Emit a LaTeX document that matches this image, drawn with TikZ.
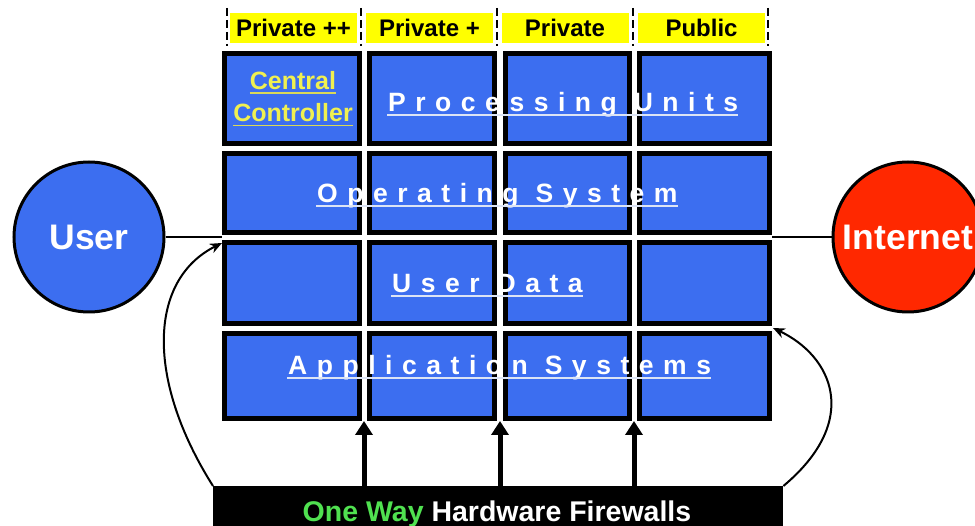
\documentclass[tikz,border=0pt]{standalone}
\usepackage{fontspec}
\setmainfont{Liberation Sans}
\usetikzlibrary{arrows.meta}
\definecolor{cellblue}{RGB}{60,110,240}
\definecolor{netred}{RGB}{255,40,0}
\definecolor{hdryellow}{RGB}{255,255,0}
\definecolor{ccyellow}{RGB}{240,240,80}
\definecolor{owgreen}{RGB}{80,225,80}
\definecolor{ulgray}{RGB}{220,228,245}
\newcommand\fsz[1]{\fontsize{#1}{#1}\selectfont}
\begin{document}
\begin{tikzpicture}[x=1pt,y=-1pt,
  cell/.style={draw=black, fill=cellblue, line width=5pt},
  hdrbox/.style={fill=hdryellow, minimum width=127pt, minimum height=30pt, inner sep=0pt, font=\fsz{24}\bfseries},
  hdrdash/.style={draw=black, line width=2.5pt, dash pattern=on 8pt off 4pt},
  rowtxt/.style={font=\fsz{26.5}\bfseries\addfontfeature{LetterSpace=36}, text=white, anchor=base west, inner sep=0pt},
  rowul/.style={draw=ulgray, line width=1.5pt},
  cctxt/.style={font=\fsz{25}\bfseries, text=ccyellow, anchor=base, inner sep=0pt},
  ccul/.style={draw=ccyellow!80!gray, line width=1.5pt},
  endpoint/.style={circle, draw=black, line width=3pt, minimum size=150pt, inner sep=0pt, font=\fsz{35.5}\bfseries, text=white},
  link/.style={draw=black, line width=2pt},
  carrow/.style={draw=black, line width=2pt, -{Stealth[length=12pt,width=10pt]}},
  varrow/.style={draw=black, line width=5pt, -{Triangle[length=14pt,width=17pt]}}
]
\useasboundingbox (0,0) rectangle (975,526);
\clip (0,0) rectangle (975,526);

% header
\node[hdrbox] (h1) at (293.5,28) {Private ++};
\node[hdrbox] (h2) at (429.5,28) {Private +};
\node[hdrbox] (h3) at (565,28) {Private};
\node[hdrbox] (h4) at (701.5,28) {Public};
\foreach \x in {227,361,497,633,768} \draw[hdrdash] (\x,8) -- (\x,46);

% grid cells
\foreach \xa/\xb in {224.5/359, 369/494.5, 505.5/629, 639/769}
  \foreach \ya/\yb in {53.5/144, 153.3/232.5, 242.5/324, 334/418.7}
    \draw[cell] (\xa,\ya) rectangle (\xb,\yb);
\node[inner sep=0pt, minimum width=549.5pt, minimum height=370pt] (grid) at (496.75,236) {};

% row texts
\node[rowtxt] (pu) at (388,112) {Processing Units};
\node[rowtxt] (os) at (317,203) {Operating System};
\node[rowtxt] (ud) at (392,293) {User Data};
\node[rowtxt] (as) at (288,375) {Application Systems};
\foreach \n in {pu,os,ud,as}
  \draw[rowul] ([shift={(-1pt,-3pt)}]\n.base west) -- ([shift={(0pt,-3pt)}]\n.base east);

\node[cctxt] (cc1) at (293,89.5) {Central};
\node[cctxt] (cc2) at (293,122) {Controller};
\foreach \n in {cc1,cc2}
  \draw[ccul] ([yshift=-3.5pt]\n.base west) -- ([yshift=-3.5pt]\n.base east);

% endpoints
\node[endpoint, fill=cellblue] (user) at (89,237) {User};
\node[endpoint, fill=netred] (inet) at (908,237) {Internet};
\draw[link] (user.east) -- (user.east -| grid.west);
\draw[link] (inet.west) -- (inet.west -| grid.east);

% firewall bar
\node[fill=black, anchor=north west, minimum width=570pt, minimum height=50pt, inner sep=0pt] (fw) at (213,486) {};
\node[font=\fsz{28.5}\bfseries, text=white, anchor=base, inner sep=0pt] (fwtxt) at (497,521) {\textcolor{owgreen}{One Way} Hardware Firewalls};

\coordinate (s1) at (364,421);
\coordinate (s2) at (500,421);
\coordinate (s3) at (634,421);
\foreach \s in {s1,s2,s3} \draw[varrow] (fw.north -| \s) -- (\s);

\coordinate (tipL) at (222,243);
\coordinate (tipR) at (773,328);
\draw[carrow] (fw.north west) .. controls (146,380) and (148,280) .. (tipL);
\draw[carrow] (fw.north east) .. controls (862,420) and (832,356) .. (tipR);
\end{tikzpicture}
\end{document}
